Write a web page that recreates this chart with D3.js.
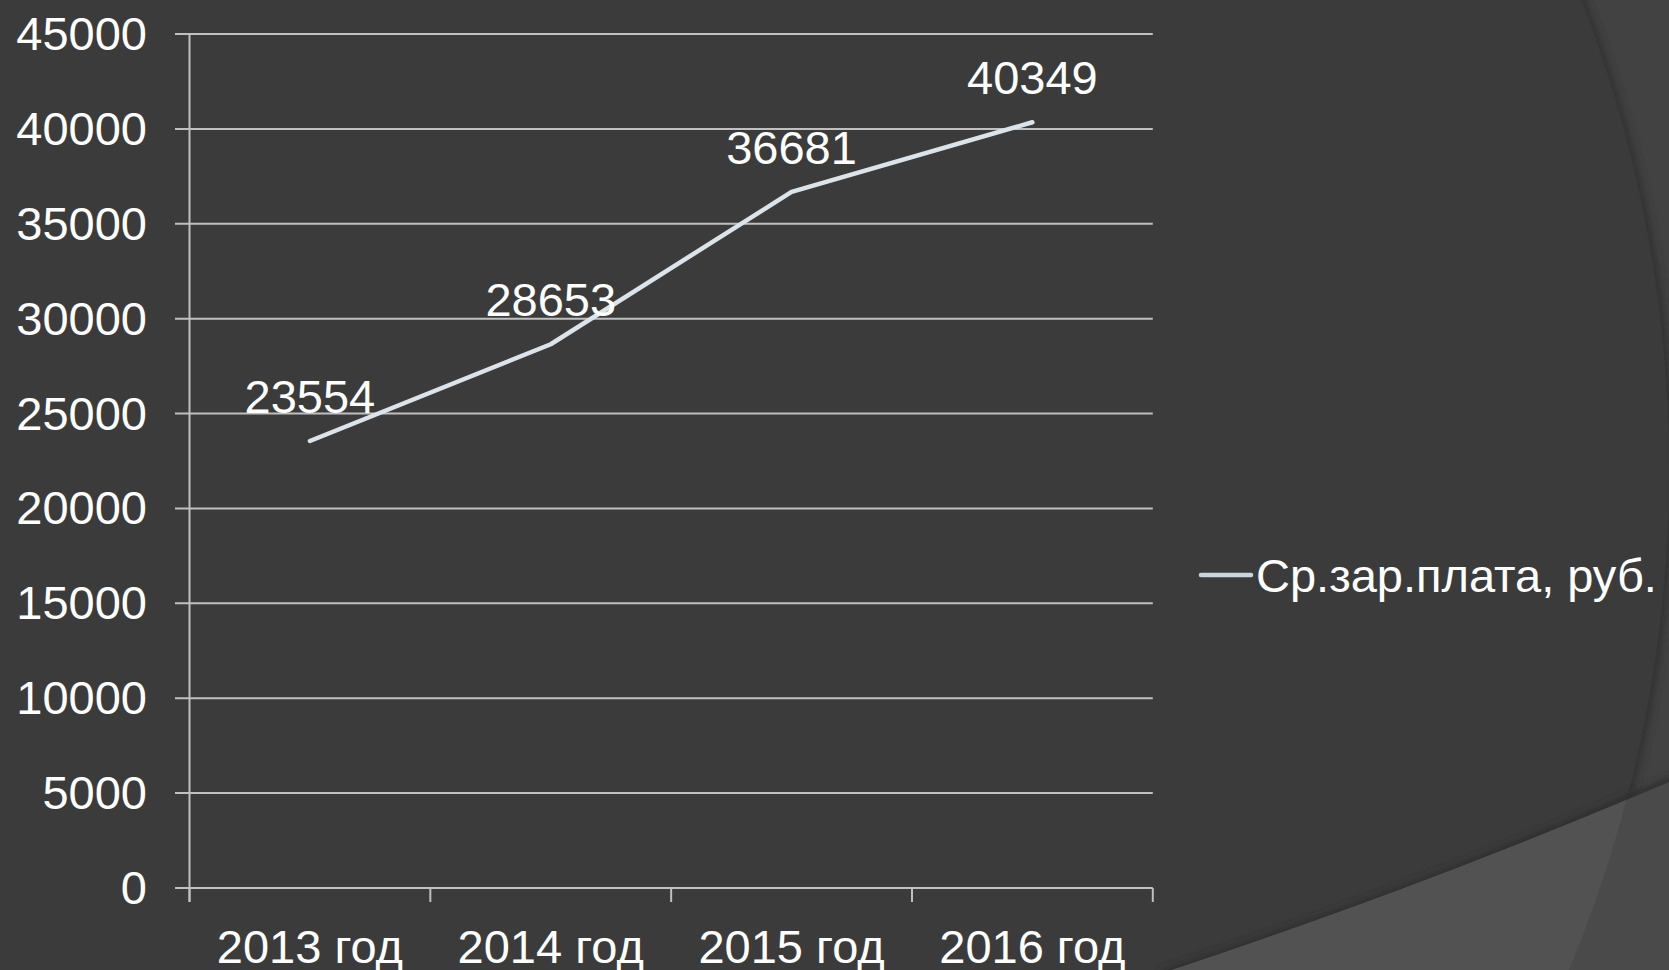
<!DOCTYPE html>
<html><head><meta charset="utf-8">
<script src="https://cdn.jsdelivr.net/npm/d3@7"></script>
<style>html,body{margin:0;padding:0;background:#3b3b3b;overflow:hidden}</style>
</head><body><svg id="c" width="1669" height="970"></svg>
<script>
const categories = ["2013 год", "2014 год", "2015 год", "2016 год"];
const values = [23554, 28653, 36681, 40349];
const seriesName = "Ср.зар.плата, руб.";
const yTicks = [0, 5000, 10000, 15000, 20000, 25000, 30000, 35000, 40000, 45000];

const W = 1669, H = 970;
const svg = d3.select("#c");
const font = "Arial, 'Liberation Sans', sans-serif";

// background decoration
const defs = svg.append("defs");
const f = defs.append("filter").attr("id","sh").attr("x","-10%").attr("y","-10%").attr("width","120%").attr("height","120%");
f.append("feGaussianBlur").attr("stdDeviation", 4);
svg.append("rect").attr("width", W).attr("height", H).attr("fill", "#424242");
const cx = 369, cy = 470, R = 1300;
svg.append("circle").attr("cx", cx).attr("cy", cy).attr("r", R).attr("fill", "none")
  .attr("stroke", "#2e2e2e").attr("stroke-width", 8).attr("filter", "url(#sh)");
svg.append("circle").attr("cx", cx).attr("cy", cy).attr("r", R).attr("fill", "#3b3b3b");
// lower lighter wedge
const wedge = "M1172,970 Q1430,884 1669,782 L1669,970 Z";
svg.append("path").attr("d", "M1162,975 Q1430,888 1675,780").attr("fill","none")
  .attr("stroke","#2c2c2c").attr("stroke-width",8).attr("filter","url(#sh)");
svg.append("path").attr("d", wedge).attr("fill", "#4a4a4a");
defs.append("clipPath").attr("id","cc").append("circle").attr("cx",cx).attr("cy",cy).attr("r",R);
svg.append("path").attr("d", wedge).attr("fill", "#525252").attr("clip-path","url(#cc)");

// scales
const x = d3.scaleBand().domain(categories).range([189.5, 1152.8]).padding(0);
const y = d3.scaleLinear().domain([0, 45000]).range([888, 34]);

const g = svg.append("g");
// gridlines
g.selectAll(".grid").data(yTicks).join("line")
  .attr("x1", 175).attr("x2", x.range()[1])
  .attr("y1", d => y(d)).attr("y2", d => y(d))
  .attr("stroke", "#c0c0c0").attr("stroke-width", 2);
// y axis line
g.append("line").attr("x1", 189.5).attr("x2", 189.5).attr("y1", y(45000)).attr("y2", y(0) + 14)
  .attr("stroke", "#c0c0c0").attr("stroke-width", 2);
// x ticks
const xt = categories.map(c => x(c)).concat([x.range()[1]]);
g.selectAll(".xt").data(xt).join("line")
  .attr("x1", d => d).attr("x2", d => d).attr("y1", y(0)).attr("y2", y(0) + 14)
  .attr("stroke", "#c0c0c0").attr("stroke-width", 2);
// y labels
g.selectAll(".yl").data(yTicks).join("text")
  .attr("x", 147).attr("y", d => y(d)).attr("dy", "0.34em")
  .attr("text-anchor", "end").attr("fill", "#ffffff")
  .style("font-family", font).style("font-size", "47px").text(d => d);
// x labels
g.selectAll(".xl").data(categories).join("text")
  .attr("x", d => x(d) + x.bandwidth() / 2).attr("y", 963)
  .attr("text-anchor", "middle").attr("fill", "#ffffff")
  .style("font-family", font).style("font-size", "47px").text(d => d);

// line
const pts = categories.map((c, i) => [x(c) + x.bandwidth() / 2, y(values[i])]);
g.append("path").attr("d", d3.line()(pts)).attr("fill", "none")
  .attr("stroke", "#dbe4ea").attr("stroke-width", 4.5)
  .attr("stroke-linejoin", "round").attr("stroke-linecap", "round");
// data labels
g.selectAll(".dl").data(categories).join("text")
  .attr("x", (d) => x(d) + x.bandwidth() / 2).attr("y", (d, i) => y(values[i]) - 28)
  .attr("text-anchor", "middle").attr("fill", "#ffffff")
  .style("font-family", font).style("font-size", "47px").text((d, i) => values[i]);

// legend
g.append("line").attr("x1", 1201).attr("x2", 1251).attr("y1", 575).attr("y2", 575)
  .attr("stroke", "#c9d6de").attr("stroke-width", 4.5).attr("stroke-linecap", "round");
g.append("text").attr("x", 1256).attr("y", 592).attr("fill", "#ffffff")
  .style("font-family", font).style("font-size", "47px").text(seriesName);
</script></body></html>
